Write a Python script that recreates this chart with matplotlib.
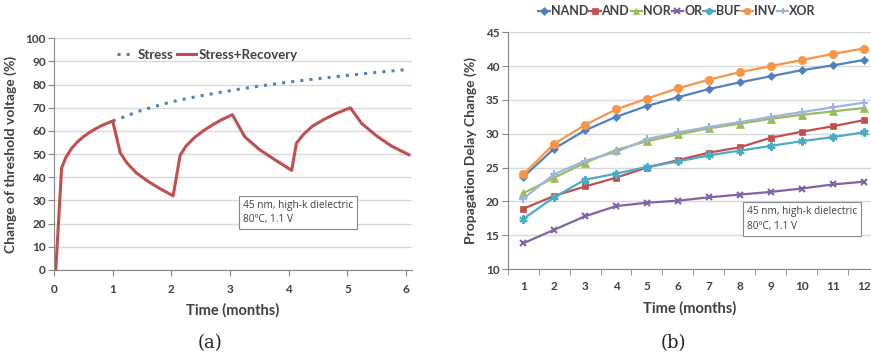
import matplotlib
matplotlib.use("Agg")
import matplotlib.pyplot as plt

plt.rcParams['font.family'] = ['Lato', 'DejaVu Sans']

# ---- Panel (a) data ----
stress_t = [1.0, 1.5, 2.0, 2.5, 3.0, 3.5, 4.0, 4.5, 5.0, 5.5, 6.0]
stress_v = [64.3, 69.0, 72.6, 75.2, 77.4, 79.4, 81.1, 82.6, 84.0, 85.3, 86.5]

sr_t = [0.03, 0.13, 0.2, 0.3, 0.4, 0.5, 0.6, 0.7, 0.8, 0.9, 1.0,
        1.13, 1.25, 1.4, 1.6, 1.8, 2.03,
        2.15, 2.25, 2.4, 2.55, 2.7, 2.85, 3.04,
        3.25, 3.5, 3.75, 4.05,
        4.13, 4.25, 4.4, 4.6, 4.8, 5.05,
        5.24, 5.5, 5.75, 6.05]
sr_v = [0.0, 44.0, 48.5, 52.5, 55.3, 57.5, 59.3, 60.8, 62.2, 63.3, 64.3,
        50.5, 46.0, 42.0, 38.3, 35.2, 32.0,
        49.6, 53.5, 57.3, 60.2, 62.6, 64.8, 67.0,
        57.5, 52.0, 47.8, 43.0,
        54.7, 58.5, 62.0, 65.0, 67.5, 70.0,
        63.3, 57.8, 53.5, 49.7]

# ---- Panel (b) data ----
months = list(range(1, 13))
nand = [23.6, 27.8, 30.5, 32.5, 34.1, 35.4, 36.6, 37.6, 38.5, 39.4, 40.1, 40.9]
and_ = [18.9, 20.8, 22.2, 23.5, 25.0, 26.1, 27.2, 28.0, 29.4, 30.3, 31.1, 32.0]
nor = [21.2, 23.5, 25.7, 27.6, 28.9, 29.9, 30.8, 31.5, 32.2, 32.8, 33.3, 33.8]
or_ = [13.8, 15.8, 17.8, 19.3, 19.8, 20.1, 20.6, 21.0, 21.4, 21.9, 22.5, 22.9]
buf = [17.4, 20.6, 23.2, 24.1, 25.1, 25.9, 26.8, 27.5, 28.2, 28.9, 29.5, 30.2]
inv = [24.0, 28.5, 31.3, 33.6, 35.2, 36.7, 38.0, 39.1, 40.0, 40.9, 41.8, 42.6]
xor = [20.4, 24.0, 26.0, 27.3, 29.2, 30.2, 31.0, 31.7, 32.5, 33.2, 33.9, 34.6]
series_names = ["NAND", "AND", "NOR", "OR", "BUF", "INV", "XOR"]

TXT = "#404040"
GRID = "#D9D9D9"
SPINE = "#868686"

fig = plt.figure(figsize=(8.71, 3.6), dpi=100)

# ---------- (a) ----------
axa = fig.add_axes([54/871, 1-270/360, 358/871, (270-38.3)/360])
axa.set_xlim(0, 6.1)
axa.set_ylim(0, 100)
axa.set_yticks(range(0, 101, 10))
axa.set_xticks(range(0, 7))
axa.grid(axis='y', color=GRID, linewidth=1)
axa.set_axisbelow(True)
for s in ['top', 'right']:
    axa.spines[s].set_visible(False)
for s in ['left', 'bottom']:
    axa.spines[s].set_color(SPINE)
axa.tick_params(axis='y', length=4, color=SPINE, labelsize=8.5, labelcolor=TXT, pad=2)
axa.tick_params(axis='x', length=4, color=SPINE, labelsize=8.5, labelcolor=TXT, pad=6)
for lab in axa.get_xticklabels() + axa.get_yticklabels():
    lab.set_fontweight('bold')
l1, = axa.plot(stress_t, stress_v, linestyle=(0, (1, 2)), color="#4F81BD", linewidth=2.2, label="Stress")
l2, = axa.plot(sr_t, sr_v, color="#C0504D", linewidth=2.2, label="Stress+Recovery")
axa.legend(handles=[l1, l2], loc='center left', bbox_to_anchor=(0.175, 0.93), ncol=2, frameon=False,
           prop={'weight': 'bold', 'size': 9.5}, handlelength=1.4, columnspacing=0.3, handletextpad=0.2,
           borderpad=0, borderaxespad=0, labelcolor=TXT)
axa.set_xlabel("Time (months)", fontsize=10.5, fontweight='bold', color=TXT, labelpad=6)
axa.set_ylabel("Change of threshold voltage (%)", fontsize=10, fontweight='bold', color=TXT, labelpad=6)
axa.text(0.528, 0.248, "45 nm, high-k dielectric\n80\u00baC, 1.1 V", transform=axa.transAxes,
         fontsize=7.3, color=TXT, va='center', ha='left', family=['Open Sans', 'DejaVu Sans'],
         linespacing=1.4,
         bbox=dict(boxstyle='square,pad=0.4', facecolor='white', edgecolor=SPINE, linewidth=0.8))

# ---------- (b) ----------
axb = fig.add_axes([507.7/871, 1-269/360, 1-507.7/871, (269-32.3)/360])
axb.set_xlim(0.5, 12.24)
axb.set_ylim(10, 45)
axb.set_yticks(range(10, 46, 5))
axb.set_xticks(months)
axb.set_xticks([m + 0.5 for m in range(0, 12)], minor=True)
axb.grid(axis='y', color=GRID, linewidth=1)
axb.set_axisbelow(True)
for s in ['top', 'right']:
    axb.spines[s].set_visible(False)
for s in ['left', 'bottom']:
    axb.spines[s].set_color(SPINE)
axb.tick_params(axis='y', length=4, color=SPINE, labelsize=8.5, labelcolor=TXT, pad=2)
axb.tick_params(axis='x', which='major', length=0, labelsize=8.5, labelcolor=TXT, pad=9)
axb.tick_params(axis='x', which='minor', length=4, color=SPINE)
for lab in axb.get_xticklabels() + axb.get_yticklabels():
    lab.set_fontweight('bold')

styles = [
    (nand, "#4F81BD", 'D', 4.5),
    (and_, "#C0504D", 's', 5),
    (nor, "#9BBB59", '^', 6),
    (or_, "#8064A2", 'x', 5),
    (buf, "#4BACC6", (6, 2, 0), 6),
    (inv, "#F79646", 'o', 6),
    (xor, "#9DB5DE", '+', 6),
]
handles = []
for (vals, col, mk, ms), name in zip(styles, series_names):
    h, = axb.plot(months, vals, color=col, marker=mk, markersize=ms, linewidth=1.6,
                  markeredgewidth=1.5 if mk in ('x', '+', (6, 2, 0)) else 0.5,
                  markeredgecolor=col, label=name)
    handles.append(h)

fig.legend(handles=handles, loc='center', bbox_to_anchor=(677/871, 1-11/360), ncol=7, frameon=False,
           prop={'weight': 'bold', 'size': 9}, handlelength=0.9, columnspacing=0.1, handletextpad=0.08,
           borderpad=0, borderaxespad=0, markerscale=0.8, labelcolor=TXT)
axb.set_xlabel("Time (months)", fontsize=10.5, fontweight='bold', color=TXT, labelpad=6)
axb.set_ylabel("Propagation Delay Change (%)", fontsize=10, fontweight='bold', color=TXT, labelpad=6)
axb.text(0.659, 0.211, "45 nm, high-k dielectric\n80\u00baC, 1.1 V", transform=axb.transAxes,
         fontsize=7.3, color=TXT, va='center', ha='left', family=['Open Sans', 'DejaVu Sans'],
         linespacing=1.4,
         bbox=dict(boxstyle='square,pad=0.4', facecolor='white', edgecolor=SPINE, linewidth=0.8))

# captions
fig.text(210/871, 1-343/360, "(a)", ha='center', va='center', fontsize=13,
         family=['DejaVu Serif'], color='#222222')
fig.text(673/871, 1-343/360, "(b)", ha='center', va='center', fontsize=13,
         family=['DejaVu Serif'], color='#222222')

fig.savefig("out.png", dpi=100)
